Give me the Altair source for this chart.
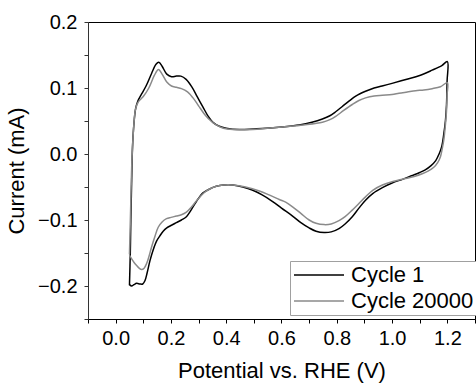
import altair as alt
import pandas as pd

series_names = ["Cycle 1", "Cycle 20000"]

# Cycle 1: anodic sweep then cathodic sweep (closed loop)
c1_x = [0.050, 0.053, 0.055, 0.058, 0.061, 0.066, 0.072, 0.080, 0.094, 0.110,
        0.130, 0.146, 0.156, 0.168, 0.185, 0.202, 0.220, 0.236, 0.255, 0.275,
        0.295, 0.316, 0.335, 0.352, 0.375, 0.400, 0.448, 0.500, 0.544, 0.600,
        0.664, 0.710, 0.748, 0.775, 0.796, 0.820, 0.844, 0.870, 0.904, 0.935,
        0.964, 1.000, 1.050, 1.100, 1.145, 1.180, 1.200,
        1.199, 1.197, 1.193, 1.187, 1.180, 1.170, 1.158, 1.140, 1.120, 1.100,
        1.070, 1.040, 1.000, 0.965, 0.930, 0.904, 0.880, 0.856, 0.830, 0.808,
        0.780, 0.754, 0.725, 0.700, 0.670, 0.640, 0.600, 0.568, 0.530, 0.496,
        0.460, 0.424, 0.390, 0.364, 0.340, 0.316, 0.300, 0.286, 0.270, 0.256,
        0.238, 0.220, 0.202, 0.185, 0.172, 0.160, 0.148, 0.136, 0.124, 0.114,
        0.106, 0.098, 0.088, 0.076, 0.066, 0.058, 0.050]
c1_y = [-0.199, -0.150, -0.100, -0.040, 0.010, 0.045, 0.068, 0.080, 0.091, 0.103,
        0.122, 0.136, 0.139, 0.133, 0.121, 0.117, 0.118, 0.118, 0.113, 0.102,
        0.087, 0.071, 0.057, 0.048, 0.042, 0.039, 0.037, 0.038, 0.039, 0.041,
        0.044, 0.048, 0.053, 0.058, 0.064, 0.072, 0.080, 0.088, 0.095, 0.100,
        0.103, 0.107, 0.113, 0.119, 0.127, 0.134, 0.140,
        0.110, 0.075, 0.050, 0.030, 0.012, 0.000, -0.010, -0.018, -0.024, -0.028,
        -0.033, -0.038, -0.044, -0.051, -0.060, -0.070, -0.082, -0.095, -0.106, -0.113,
        -0.118, -0.119, -0.117, -0.112, -0.104, -0.094, -0.082, -0.072, -0.062, -0.055,
        -0.050, -0.047, -0.047, -0.049, -0.053, -0.059, -0.067, -0.076, -0.087, -0.095,
        -0.100, -0.104, -0.108, -0.112, -0.117, -0.124, -0.132, -0.145, -0.162, -0.180,
        -0.192, -0.197, -0.197, -0.196, -0.198, -0.200, -0.198]

# Cycle 20000
c2_x = [0.050, 0.052, 0.055, 0.058, 0.061, 0.066, 0.072, 0.082, 0.100, 0.120,
        0.140, 0.155, 0.168, 0.185, 0.202, 0.220, 0.238, 0.260, 0.280, 0.300,
        0.322, 0.345, 0.364, 0.390, 0.424, 0.496, 0.550, 0.604, 0.680, 0.748,
        0.775, 0.796, 0.825, 0.856, 0.880, 0.904, 0.935, 0.965, 1.000, 1.025,
        1.055, 1.085, 1.115, 1.145, 1.175, 1.200,
        1.199, 1.197, 1.192, 1.187, 1.181, 1.175, 1.165, 1.151, 1.130, 1.109,
        1.080, 1.049, 1.000, 0.965, 0.930, 0.904, 0.880, 0.856, 0.830, 0.808,
        0.780, 0.754, 0.725, 0.700, 0.670, 0.640, 0.615, 0.592, 0.555, 0.520,
        0.470, 0.424, 0.390, 0.364, 0.340, 0.322, 0.305, 0.292, 0.275, 0.256,
        0.238, 0.220, 0.200, 0.184, 0.168, 0.154, 0.142, 0.130, 0.120, 0.112,
        0.103, 0.094, 0.085, 0.076, 0.066, 0.058, 0.050]
c2_y = [-0.152, -0.120, -0.070, -0.020, 0.010, 0.045, 0.068, 0.079, 0.087, 0.100,
        0.119, 0.128, 0.121, 0.109, 0.103, 0.101, 0.099, 0.094, 0.085, 0.073,
        0.060, 0.050, 0.044, 0.039, 0.037, 0.037, 0.039, 0.041, 0.044, 0.048,
        0.052, 0.057, 0.066, 0.075, 0.081, 0.085, 0.088, 0.089, 0.090, 0.092,
        0.094, 0.096, 0.097, 0.099, 0.102, 0.108,
        0.090, 0.066, 0.040, 0.021, 0.007, -0.004, -0.013, -0.020, -0.026, -0.030,
        -0.034, -0.037, -0.042, -0.047, -0.055, -0.065, -0.075, -0.085, -0.095, -0.101,
        -0.106, -0.107, -0.105, -0.100, -0.090, -0.080, -0.073, -0.069, -0.062, -0.056,
        -0.050, -0.047, -0.047, -0.049, -0.053, -0.058, -0.065, -0.071, -0.080, -0.088,
        -0.092, -0.094, -0.096, -0.098, -0.103, -0.111, -0.125, -0.141, -0.156, -0.166,
        -0.173, -0.175, -0.173, -0.169, -0.164, -0.159, -0.153]

y_ticks = [-0.25, -0.2, -0.15, -0.1, -0.05, 0.0, 0.05, 0.1, 0.15, 0.2]
x_ticks = [-0.1, 0.0, 0.1, 0.2, 0.3, 0.4, 0.5, 0.6, 0.7, 0.8, 0.9, 1.0, 1.1, 1.2, 1.3]

rows = []
for name, xs, ys in [(series_names[0], c1_x, c1_y), (series_names[1], c2_x, c2_y)]:
    for i, (xv, yv) in enumerate(zip(xs, ys)):
        rows.append({"series": name, "E": xv, "I": yv, "idx": i})
df = pd.DataFrame(rows)

FONT = "Liberation Sans"

chart = alt.Chart(df).mark_line(strokeWidth=1.5, interpolate="catmull-rom").encode(
    x=alt.X("E:Q", scale=alt.Scale(domain=[-0.1, 1.3], nice=False, zero=False),
            axis=alt.Axis(title="Potential vs. RHE (V)", values=x_ticks,
                          labelExpr="round(datum.value*100) % 20 == 0 ? format(datum.value, '.1f') : ''",
                          grid=False, tickSize=4, labelPadding=5, labelFontSize=20,
                          titleFontSize=22, titlePadding=12, labelFont=FONT, titleFont=FONT,
                          titleFontWeight="normal", domainColor="#000", tickColor="#000",
                          labelColor="#000", titleColor="#000", labelFlush=False)),
    y=alt.Y("I:Q", scale=alt.Scale(domain=[-0.25, 0.2], nice=False, zero=False),
            axis=alt.Axis(title="Current (mA)", values=y_ticks,
                          labelExpr="round(datum.value*100) % 10 == 0 ? format(datum.value, '.1f') : ''",
                          grid=False, tickSize=4, labelPadding=7, labelFontSize=20,
                          titleFontSize=22, titlePadding=9, labelFont=FONT, titleFont=FONT,
                          titleFontWeight="normal", domainColor="#333", tickColor="#333",
                          labelColor="#000", titleColor="#000", labelFlush=False)),
    color=alt.Color("series:N", scale=alt.Scale(domain=series_names, range=["#000000", "#8a8a8a"]),
                    legend=alt.Legend(title=None, orient="none", legendX=202, legendY=239,
                                      symbolType="M-1,0H4", symbolSize=400, symbolStrokeWidth=1.5,
                                      labelFontSize=22, labelFont=FONT, labelColor="#000",
                                      labelOffset=36, padding=3, rowPadding=4,
                                      strokeColor="#a0a0a0", fillColor="white")),
    order="idx:Q",
).properties(
    width=387, height=297,
    autosize=alt.AutoSizeParams(type="none"),
    padding={"left": 88, "top": 22, "right": 1, "bottom": 69},
).configure_view(stroke="#000", strokeWidth=1)

chart.save("out.html", embed_options={"renderer": "svg", "actions": False})
